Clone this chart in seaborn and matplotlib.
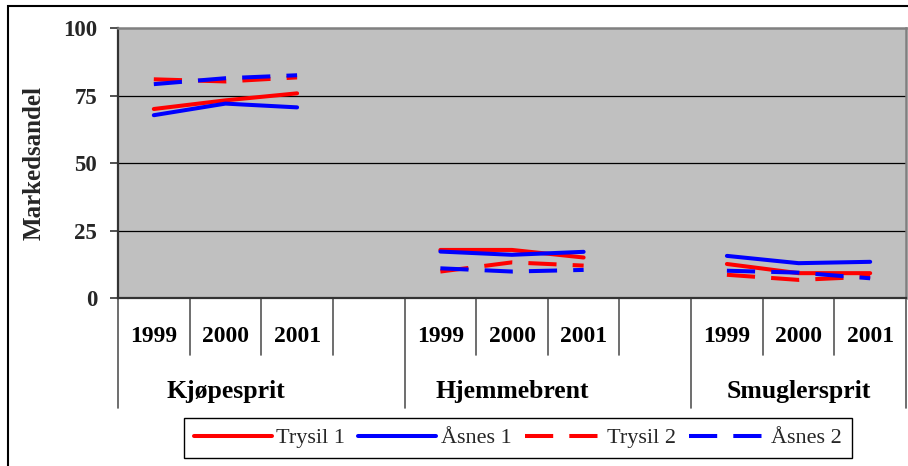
import pandas as pd
import matplotlib.pyplot as plt
from matplotlib.patches import Rectangle
import seaborn as sns

# Data
groups = ["Kjøpesprit", "Hjemmebrent", "Smuglersprit"]
years = ["1999", "2000", "2001"]
series = ["Trysil 1", "Åsnes 1", "Trysil 2", "Åsnes 2"]

trysil_1 = [70.0, 73.2, 75.8, 17.8, 17.8, 15.0, 12.6, 9.2, 9.2]
asnes_1 = [67.7, 72.0, 70.6, 17.2, 16.0, 17.1, 15.6, 12.9, 13.4]
trysil_2 = [81.0, 80.2, 81.7, 9.8, 13.2, 12.0, 8.6, 6.7, 7.9]
asnes_2 = [79.2, 81.4, 82.5, 11.0, 9.8, 10.4, 10.1, 9.4, 7.3]

verdier = {"Trysil 1": trysil_1, "Åsnes 1": asnes_1,
           "Trysil 2": trysil_2, "Åsnes 2": asnes_2}

# Long table, one empty slot between groups
rows = []
for s in series:
    for gi, g in enumerate(groups):
        for yi, yr in enumerate(years):
            rows.append({"Serie": s, "Gruppe": g, "Aar": yr,
                         "pos": gi * 4 + yi,
                         "Markedsandel": verdier[s][gi * 3 + yi]})
df = pd.DataFrame(rows)

farger = {"Trysil 1": "#FF0000", "Åsnes 1": "#0000FF",
          "Trysil 2": "#FF0000", "Åsnes 2": "#0000FF"}
streker = {"Trysil 1": "", "Åsnes 1": "", "Trysil 2": (7.0, 4.0), "Åsnes 2": (7.0, 4.0)}

sns.set_theme(style="white")
plt.rcParams["font.family"] = ["Liberation Serif", "DejaVu Serif"]

fig = plt.figure(figsize=(9.08, 4.66), dpi=100)
ax = fig.add_axes([118 / 908, 1 - 298 / 466, 788 / 908, 270 / 466])
ax.set_facecolor("#C0C0C0")

sns.lineplot(data=df, x="pos", y="Markedsandel", hue="Serie", style="Serie",
             units="Gruppe", estimator=None, hue_order=series, style_order=series,
             palette=farger, dashes=streker, linewidth=2.9, ax=ax)

ax.set_xlim(-0.5, 10.5)
ax.set_ylim(0, 100)
ax.set_yticks([0, 25, 50, 75, 100])
ax.set_xticks([])
ax.set_xlabel("")
ax.grid(False)
for yv in [25, 50, 75]:
    ax.axhline(yv, color="black", linewidth=0.9, zorder=1)

ax.tick_params(axis="y", left=True, length=6, width=1.2, color="#333333", pad=9,
               labelsize=16.5)
for t in ax.get_yticklabels():
    t.set_fontweight("bold")

ax.set_ylabel("Markedsandel", fontsize=18, fontweight="bold")
ax.yaxis.set_label_coords(-0.092, 0.5)

for side in ["top", "right"]:
    ax.spines[side].set_color("#808080")
    ax.spines[side].set_linewidth(1.8)
for side in ["left", "bottom"]:
    ax.spines[side].set_color("#333333")
    ax.spines[side].set_linewidth(1.6)

# Multi-level category axis
tr = ax.get_xaxis_transform()
for gi, g in enumerate(groups):
    for yi, yr in enumerate(years):
        ax.text(gi * 4 + yi, -0.144, yr, transform=tr, ha="center", va="center",
                fontsize=17, fontweight="bold", color="black")
    ax.text(gi * 4 + 1, -0.348, g, transform=tr, ha="center", va="center",
            fontsize=18.5, fontweight="bold", color="black")

korte = [0.5, 1.5, 2.5, 4.5, 5.5, 6.5, 8.5, 9.5]
lange = [-0.5, 3.5, 7.5, 10.5]
for xv in korte:
    ax.plot([xv, xv], [0, -0.211], transform=tr, color="#555555", linewidth=1.2,
            clip_on=False)
for xv in lange:
    ax.plot([xv, xv], [0, -0.407], transform=tr, color="#555555", linewidth=1.2,
            clip_on=False)

# Legend
handles, labels = ax.get_legend_handles_labels()
ax.get_legend().remove()
leg = fig.legend(handles, labels, loc="center", bbox_to_anchor=(518 / 908, 1 - 438 / 466),
                 ncol=4, fontsize=16, handlelength=3.5, handletextpad=0.2,
                 columnspacing=0.6, borderpad=0.45, frameon=True, fancybox=False,
                 edgecolor="black", framealpha=1)
leg.get_frame().set_linewidth(1.0)

# Outer chart border
fig.add_artist(Rectangle((8 / 908, -0.05), 1.1, 1 - 6 / 466 + 0.05, transform=fig.transFigure,
                         fill=False, edgecolor="black", linewidth=1.5))

plt.savefig("out.png", dpi=100)
plt.close()
